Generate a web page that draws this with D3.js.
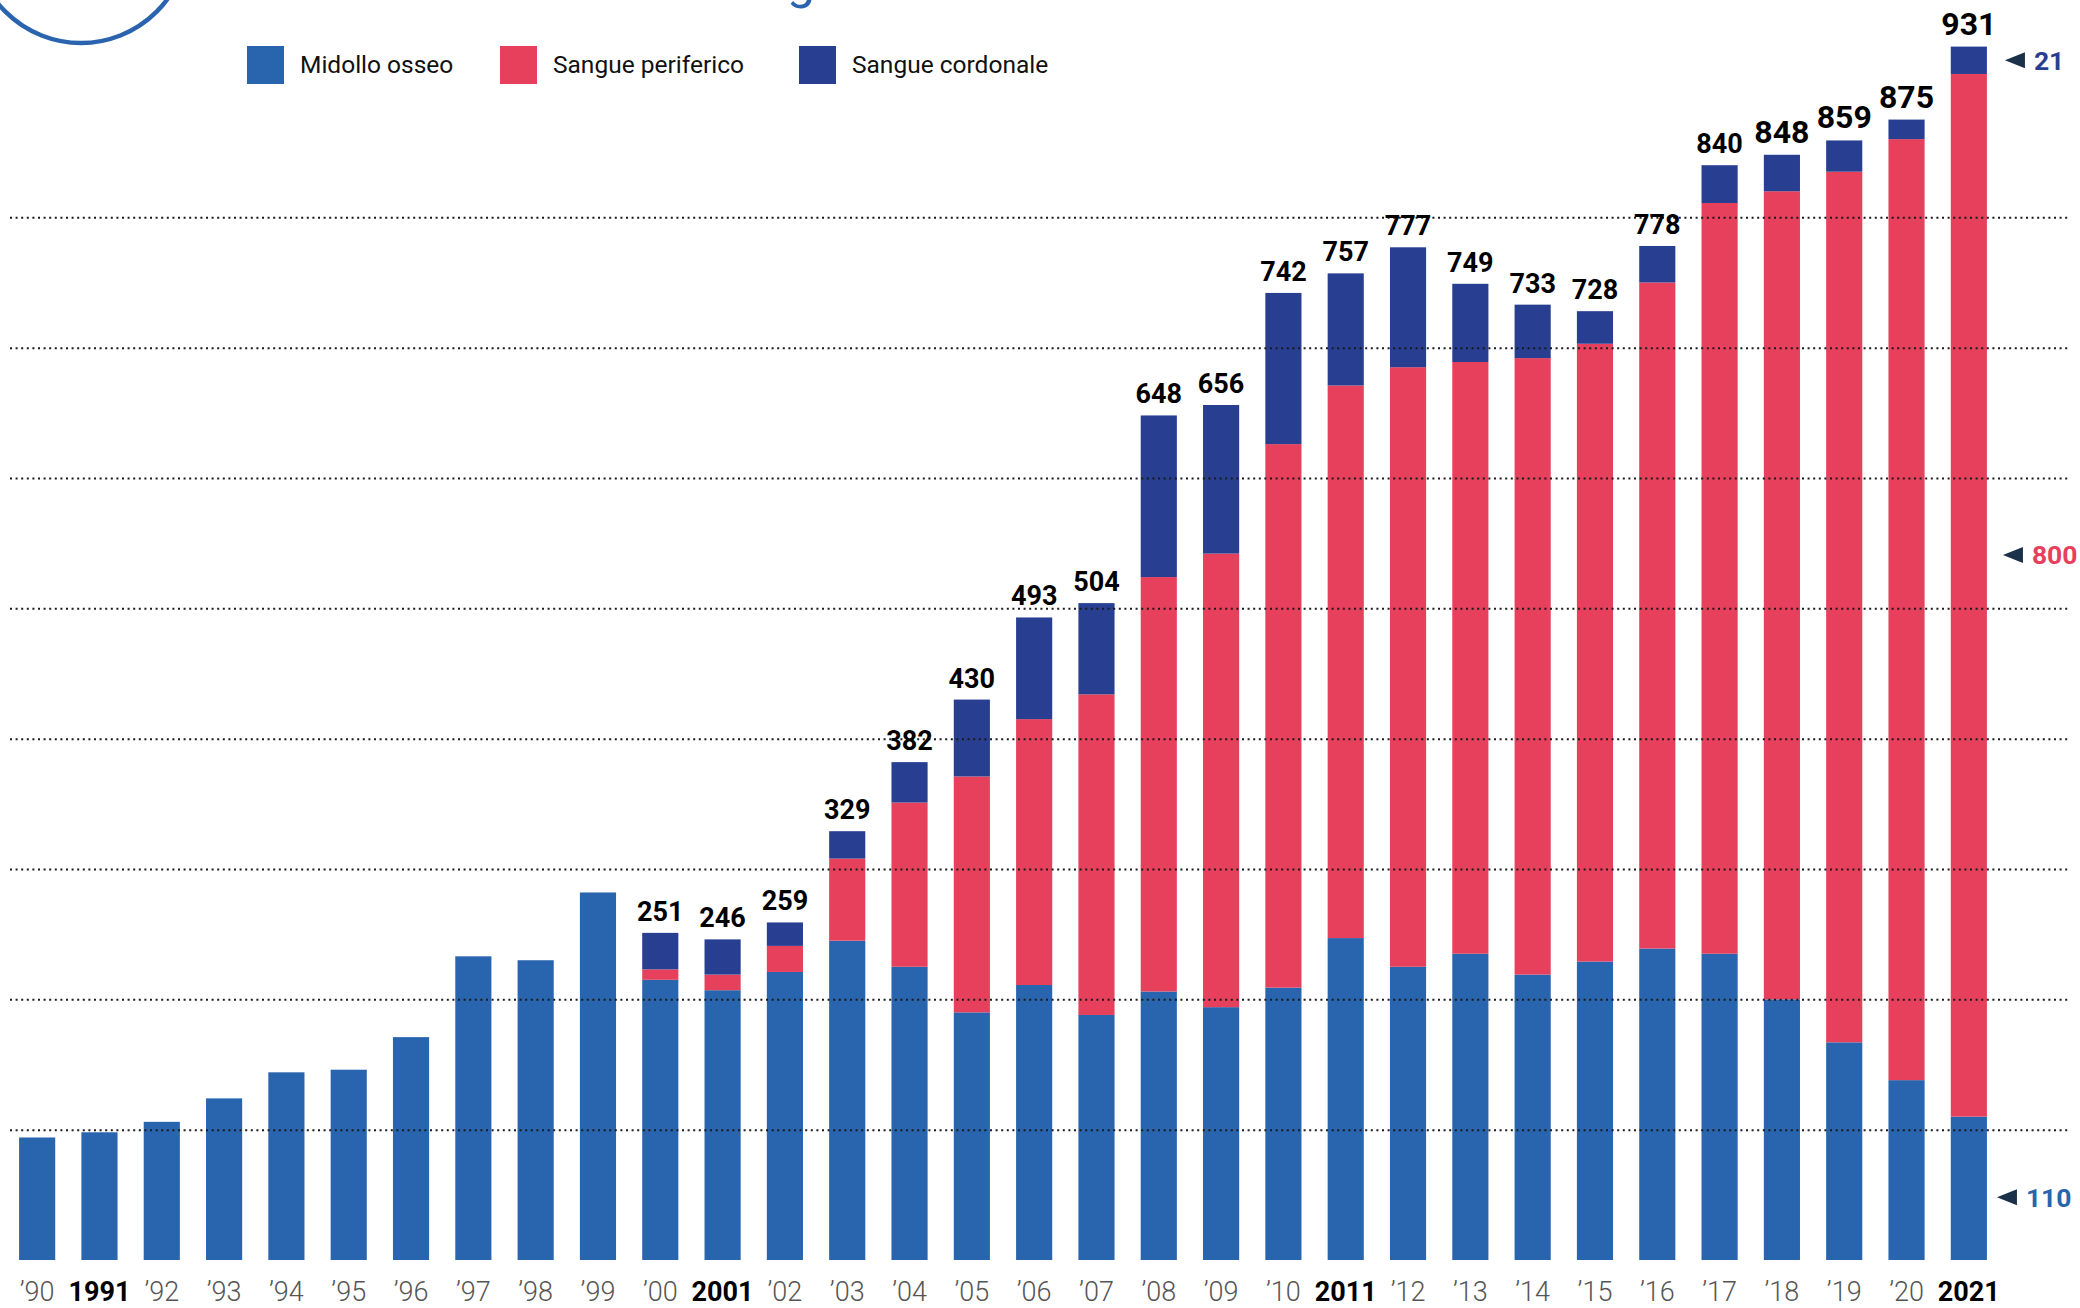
<!DOCTYPE html>
<html>
<head>
<meta charset="utf-8">
<script src="https://cdn.jsdelivr.net/npm/d3@7"></script>
<style>
  html, body { margin: 0; padding: 0; background: #fff; }
  svg { display: block; }
</style>
</head>
<body>
<svg class="main"></svg>
<script>
// data
var years = d3.range(1990, 2022)
var tickLabels = ['’90', '1991', '’92', '’93', '’94', '’95', '’96', '’97', '’98', '’99',
  '’00', '2001', '’02', '’03', '’04', '’05', '’06', '’07', '’08', '’09',
  '’10', '2011', '’12', '’13', '’14', '’15', '’16', '’17', '’18', '’19', '’20', '2021']
var midollo = [94, 98, 106, 124, 144, 146, 171, 233, 230, 282,
  215, 207, 221, 245, 225, 190, 211, 188, 206, 194,
  209, 247, 225, 235, 219, 229, 239, 235, 200, 167, 138, 110]
var periferico = [0, 0, 0, 0, 0, 0, 0, 0, 0, 0,
  8, 12, 20, 63, 126, 181, 204, 246, 318, 348,
  417, 424, 460, 454, 473, 474, 511, 576, 620, 668, 722, 800]
var cordonale = [0, 0, 0, 0, 0, 0, 0, 0, 0, 0,
  28, 27, 18, 21, 31, 59, 78, 70, 124, 114,
  116, 86, 92, 60, 41, 25, 28, 29, 28, 24, 15, 21]
var totals = [null, null, null, null, null, null, null, null, null, null,
  251, 246, 259, 329, 382, 430, 493, 504, 648, 656,
  742, 757, 777, 749, 733, 728, 778, 840, 848, 859, 875, 931]
var seriesNames = ['Midollo osseo', 'Sangue periferico', 'Sangue cordonale']
var gridValues = [100, 200, 300, 400, 500, 600, 700, 800]

var cols = ['midollo', 'periferico', 'cordonale']
var colors = ['#2964ae', '#e6405c', '#283f91']

var data = years.map(function(y, i) {
  return {year: y, label: tickLabels[i], total: totals[i],
    midollo: midollo[i], periferico: periferico[i], cordonale: cordonale[i]}
})

const W = 2080, H = 1308
var svg = d3.select('svg.main').attr('width', W).attr('height', H)

// scales
const xScale = d3.scaleBand()
  .domain(years)
  .range([6, 2000])
  .paddingInner(0.42)
  .paddingOuter(0.21)

const yScale = d3.scaleLinear()
  .domain([0, 900])
  .range([1260, 87])

const color = d3.scaleOrdinal().domain(cols).range(colors)

var dataset = d3.stack().keys(cols)(data)

// decoration top left (cut title)
svg.append('circle')
  .attr('cx', 81).attr('cy', -64)
  .attr('r', 107)
  .attr('fill', 'none')
  .attr('stroke', '#2a64ae')
  .attr('stroke-width', 4.5)
svg.append('text')
  .attr('x', 787).attr('y', -2)
  .attr('font-family', 'Roboto')
  .attr('font-size', 50)
  .attr('fill', '#2a64ae')
  .text('g')

// bars
svg.selectAll('g.layer')
  .data(dataset).enter()
  .append('g')
  .attr('class', 'layer')
  .attr('fill', d => color(d.key))
  .selectAll('rect')
  .data(d => d.filter(p => p[1] > p[0]))
  .join('rect')
  .attr('x', d => xScale(d.data.year))
  .attr('y', d => yScale(d[1]))
  .attr('width', xScale.bandwidth())
  .attr('height', d => yScale(d[0]) - yScale(d[1]))

// dotted grid lines drawn over the bars
const grid = svg.append('g')
  .attr('transform', 'translate(10, 0)')
  .call(d3.axisLeft(yScale).tickValues(gridValues).tickSize(-2058).tickFormat(''))
grid.select('.domain').remove()
grid.selectAll('line')
  .attr('stroke', '#1a1a1a')
  .attr('stroke-width', 2)
  .attr('stroke-dasharray', '2 3.6')

// totals above bars
svg.append('g').selectAll('text')
  .data(data.filter(d => d.total != null))
  .join('text')
  .attr('x', d => xScale(d.year) + xScale.bandwidth() / 2)
  .attr('y', d => yScale(d.midollo + d.periferico + d.cordonale) - 12)
  .attr('text-anchor', 'middle')
  .attr('font-family', 'Roboto')
  .attr('font-weight', 700)
  .attr('font-size', d => d.year >= 2018 ? 32 : 27)
  .attr('fill', '#000')
  .text(d => d.total)

// x axis
const xAxis = svg.append('g')
  .attr('transform', 'translate(0, 1260)')
  .call(d3.axisBottom(xScale).tickSize(0).tickFormat((d, i) => tickLabels[i]))
xAxis.select('.domain').remove()
xAxis.selectAll('text')
  .attr('y', 41)
  .attr('dy', 0)
  .attr('font-family', 'Roboto')
  .attr('font-size', 27)
  .attr('font-weight', (d, i) => tickLabels[i].length == 4 ? 700 : 300)
  .attr('fill', (d, i) => tickLabels[i].length == 4 ? '#000' : '#555')

// legend
const legend = svg.append('g').attr('class', 'legend')
var legendX = [247, 500, 799]
seriesNames.forEach(function(name, i) {
  legend.append('rect')
    .attr('x', legendX[i]).attr('y', 46)
    .attr('width', 37).attr('height', 38)
    .attr('fill', colors[i])
  legend.append('text')
    .attr('x', legendX[i] + 53).attr('y', 73)
    .attr('font-family', 'Roboto')
    .attr('font-size', 24.5)
    .attr('fill', '#111')
    .text(name)
})

// annotations for 2021
var last = data[data.length - 1]
var annX = xScale(2021) + xScale.bandwidth() + 14
var annotations = [
  {value: last.cordonale, y: yScale(last.midollo + last.periferico + last.cordonale / 2), color: colors[2], dx: 4},
  {value: last.periferico, y: yScale(541), color: colors[1], dx: 2},
  {value: last.midollo, y: yScale(last.midollo / 2) + 9, color: colors[0], dx: -4}
]
const ann = svg.append('g').attr('class', 'annotations')
annotations.forEach(function(a) {
  var x0 = annX + a.dx
  ann.append('path')
    .attr('d', `M${x0},${a.y} L${x0 + 20},${a.y - 8} L${x0 + 20},${a.y + 8} Z`)
    .attr('fill', '#1b3149')
  ann.append('text')
    .attr('x', x0 + 29).attr('y', a.y + 9.5)
    .attr('font-family', 'Roboto')
    .attr('font-weight', 700)
    .attr('font-size', 26.5)
    .attr('fill', a.color)
    .text(a.value)
})
</script>
</body>
</html>
